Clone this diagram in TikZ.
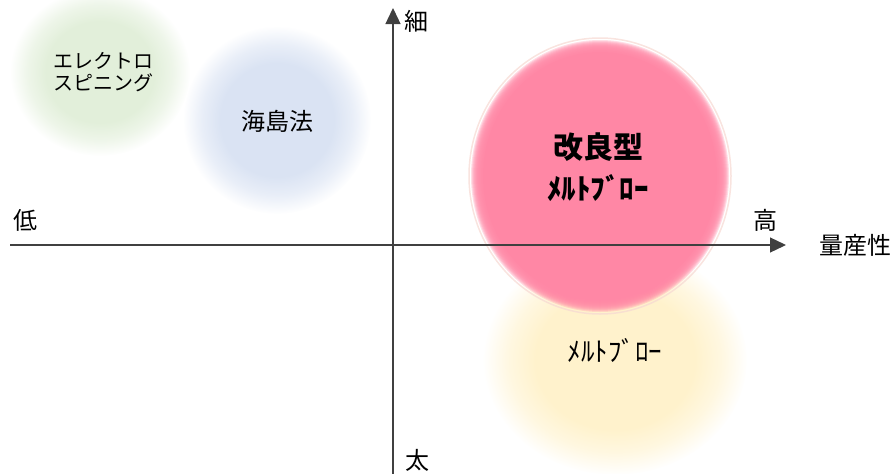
\documentclass[tikz,border=0pt]{standalone}
\usepackage{fontspec}
\setmainfont{Noto Sans CJK JP}
\usetikzlibrary{arrows.meta,fadings}
\pgfdeclareradialshading{softwideshade}{\pgfpointorigin}{color(0bp)=(pgftransparent!0); color(15bp)=(pgftransparent!0); color(20bp)=(pgftransparent!40); color(25bp)=(pgftransparent!100); color(50bp)=(pgftransparent!100)}
\pgfdeclarefading{softwide}{\pgfuseshading{softwideshade}}
\definecolor{cgreen}{HTML}{E2EFDA}
\definecolor{cblue}{HTML}{DAE3F3}
\definecolor{cyellow}{HTML}{FFF2CC}
\definecolor{cpink}{HTML}{FF87A5}
\definecolor{cring}{HTML}{F6D8D2}
\definecolor{caxis}{HTML}{404040}
\tikzset{
  axisline/.style={draw=caxis, line width=1.3pt, -{Triangle[length=16pt,width=15pt]}},
  lbl/.style={inner sep=0pt, font=\fontsize{24}{26}\selectfont},
  blob/.style={inner sep=0pt, align=center},
  pinklayer/.style={fill=cpink, opacity=0.28}
}
\begin{document}
\begin{tikzpicture}[x=1pt,y=-1pt]
\useasboundingbox (0,0) rectangle (892,474);
% blobs
\fill[cgreen, path fading=softwide] (100,72) ellipse [x radius=90, y radius=84];
\fill[cblue, path fading=softwide] (277,120) ellipse [x radius=94, y radius=94];
\fill[cyellow, path fading=softwide] (615,360) ellipse [x radius=132, y radius=115];
\foreach \i in {0,...,11} {
  \fill[pinklayer] (600,176) ellipse [x radius=129-\i, y radius=136-\i];
}
\fill[cpink] (600,176) ellipse [x radius=117, y radius=124];
\draw[cring, line width=1.5pt, opacity=0.7] (600,176) ellipse [x radius=131, y radius=138];
% texts in blobs
\node[blob, font=\fontsize{20}{22}\selectfont] (es) at (103,72) {エレクトロ\\スピニング};
\node[blob, font=\fontsize{24}{26}\selectfont] (ki) at (277,121) {海島法};
\node[blob, font=\bfseries\fontsize{30}{32}\selectfont] (kr) at (598,147) {改良型};
\node[blob, font=\bfseries\fontsize{29}{31}\selectfont] (mb1) at (598,188) {ﾒﾙﾄﾌﾞﾛｰ};
\node[blob, font=\fontsize{27}{29}\selectfont] (mb2) at (615,350) {ﾒﾙﾄﾌﾞﾛｰ};
% axes
\coordinate (hl) at (10,245);
\coordinate (hr) at (786,245);
\coordinate (vb) at (393,474);
\coordinate (vt) at (393,8);
\draw[axisline] (hl) -- (hr);
\draw[axisline] (vb) -- (vt);
% axis labels
\node[lbl] (hoso) at (416,21) {細};
\node[lbl] (futo) at (417,460) {太};
\node[lbl] (tei) at (25,220) {低};
\node[lbl] (kou) at (765,220) {高};
\node[lbl, anchor=east] (ryo) at (892,245) {量産性};
\end{tikzpicture}
\end{document}
